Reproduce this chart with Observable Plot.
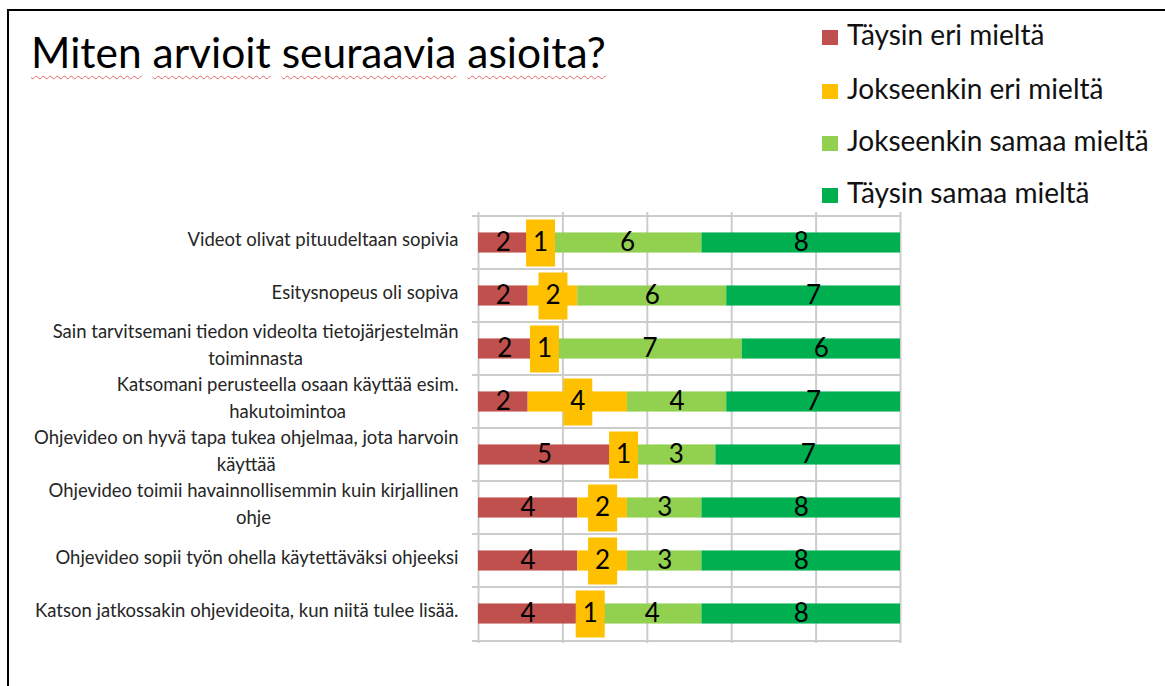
<!DOCTYPE html>
<html>
<head>
<meta charset="utf-8">
<script src="https://cdn.jsdelivr.net/npm/d3@7"></script>
<script src="https://cdn.jsdelivr.net/npm/@observablehq/plot@0.6"></script>
<style>
  body { margin: 0; background: #fff; font-family: Lato, "Open Sans", sans-serif; }
  #frame { position: absolute; left: 7px; top: 9px; width: 1300px; height: 800px;
           border-left: 2px solid #000; border-top: 2px solid #000; }
  #title { position: absolute; left: 31px; top: 26px; font-size: 42.5px; color: #000; white-space: nowrap; z-index: 2; }
  #title span { text-decoration: underline wavy #e06666; text-decoration-thickness: 1px; text-underline-offset: 7px; }
  #legend { position: absolute; left: 822px; top: 0; z-index: 2; }
  .item { position: absolute; left: 0; white-space: nowrap; font-size: 28px; color: #111; line-height: 34px; }
  .item i { display: inline-block; width: 16px; height: 15px; margin-right: 9px; vertical-align: 0px; }
  #chart { position: absolute; left: 0; top: 0; z-index: 1; }
</style>
</head>
<body>
<div id="frame"></div>
<div id="title"></div>
<div id="legend"></div>
<div id="chart"></div>
<script>
const titleText = "Miten arvioit seuraavia asioita?";
const questions = [
  "Videot olivat pituudeltaan sopivia",
  "Esitysnopeus oli sopiva",
  "Sain tarvitsemani tiedon videolta tietojärjestelmän toiminnasta",
  "Katsomani perusteella osaan käyttää esim. hakutoimintoa",
  "Ohjevideo on hyvä tapa tukea ohjelmaa, jota harvoin käyttää",
  "Ohjevideo toimii havainnollisemmin kuin kirjallinen ohje",
  "Ohjevideo sopii työn ohella käytettäväksi ohjeeksi",
  "Katson jatkossakin ohjevideoita, kun niitä tulee lisää."
];
const tickLabels = [
  "Videot olivat pituudeltaan sopivia",
  "Esitysnopeus oli sopiva",
  "Sain tarvitsemani tiedon videolta tietojärjestelmän\ntoiminnasta",
  "Katsomani perusteella osaan käyttää esim.\nhakutoimintoa",
  "Ohjevideo on hyvä tapa tukea ohjelmaa, jota harvoin\nkäyttää",
  "Ohjevideo toimii havainnollisemmin kuin kirjallinen\nohje",
  "Ohjevideo sopii työn ohella käytettäväksi ohjeeksi",
  "Katson jatkossakin ohjevideoita, kun niitä tulee lisää."
];
const categories = ["Täysin eri mieltä", "Jokseenkin eri mieltä", "Jokseenkin samaa mieltä", "Täysin samaa mieltä"];
const colors = ["#c0504d", "#ffc000", "#92d050", "#00b050"];
const taysinEri       = [2, 2, 2, 2, 5, 4, 4, 4];
const jokseenkinEri   = [1, 2, 1, 4, 1, 2, 2, 1];
const jokseenkinSamaa = [6, 6, 7, 4, 3, 3, 3, 4];
const taysinSamaa     = [8, 7, 6, 7, 7, 8, 8, 8];
const seriesValues = [taysinEri, jokseenkinEri, jokseenkinSamaa, taysinSamaa];
const gridTicks = [0, 0.2, 0.4, 0.6, 0.8, 1];

// title
const title = document.getElementById("title");
titleText.split(" ").forEach((w, i) => {
  if (i) title.appendChild(document.createTextNode(" "));
  const s = document.createElement("span"); s.textContent = w; title.appendChild(s);
});
// legend
const legendTops = [17, 71, 123, 175];
const legend = document.getElementById("legend");
categories.forEach((c, i) => {
  const d = document.createElement("div");
  d.className = "item"; d.style.top = legendTops[i] + "px";
  d.innerHTML = `<i style="background:${colors[i]}"></i>${c}`;
  legend.appendChild(d);
});

const rows = [];
questions.forEach((q, qi) => categories.forEach((c, ci) => rows.push({question: q, series: c, value: seriesValues[ci][qi]})));

const W = 1165, H = 686, mL = 478, mR = 265, mT = 212, mB = 43;
const step = (H - mT - mB) / questions.length;
const barH = 21;
const inset = (step - barH) / 2;
const boxSymbol = {draw(ctx) { ctx.rect(-14.5, -23.5, 29, 47); }};
const stackOpts = {x: "value", y: "question", z: "series", offset: "normalize", order: categories};

const chart = Plot.plot({
  width: W, height: H,
  marginLeft: mL, marginRight: mR, marginTop: mT, marginBottom: mB,
  style: {fontFamily: "Lato, 'Open Sans', sans-serif", background: "transparent"},
  x: {domain: [0, 1], axis: null},
  y: {domain: questions, padding: 0, label: null},
  color: {domain: categories, range: colors},
  marks: [
    Plot.gridX(gridTicks, {stroke: "#cccccc", strokeOpacity: 1, strokeWidth: 2}),
    Plot.ruleY(questions, {y: d => d, dy: -step / 2, insetLeft: -6, stroke: "#cccccc", strokeWidth: 2}),
    Plot.ruleY(questions.slice(-1), {y: d => d, dy: step / 2, insetLeft: -6, stroke: "#cccccc", strokeWidth: 2}),
    Plot.barX(rows, Plot.stackX({...stackOpts, fill: "series", insetTop: inset, insetBottom: inset})),
    Plot.dot(rows, Plot.stackX({...stackOpts, fill: d => d.series === categories[1] ? colors[1] : "none", symbol: boxSymbol, r: 10})),
    Plot.text(rows, Plot.stackX({...stackOpts, text: "value", fontSize: 26, fill: "#000"})),
    Plot.axisY({tickSize: 0, tickPadding: 20, fontSize: 18.5, lineHeight: 1.45, color: "#262626", dy: -6, label: null,
      tickFormat: d => tickLabels[questions.indexOf(d)]})
  ]
});
document.getElementById("chart").appendChild(chart);

// center multi-line tick labels within their right-aligned block
chart.querySelectorAll("text").forEach(t => {
  const ts = t.querySelectorAll("tspan");
  if (ts.length > 1) {
    const w = Math.max(...Array.from(ts, s => s.getComputedTextLength()));
    t.setAttribute("text-anchor", "middle");
    ts.forEach(s => s.setAttribute("x", -w / 2));
  }
});
</script>
</body>
</html>
